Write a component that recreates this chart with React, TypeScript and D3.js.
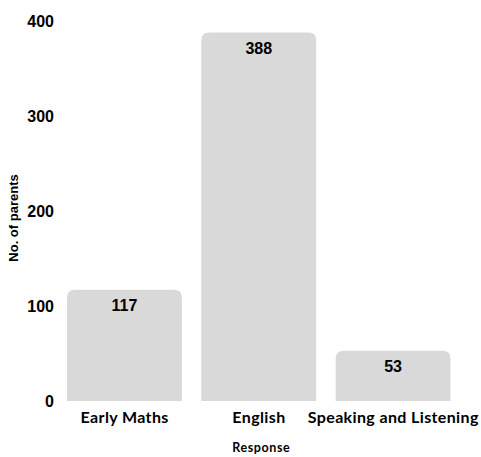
import React from "react";
import * as d3 from "d3";

const categories = ["Early Maths", "English", "Speaking and Listening"];
const values = [117, 388, 53];
const yTicks = [0, 100, 200, 300, 400];

const W = 481;
const H = 457;

function topRoundedRect(x: number, y: number, w: number, h: number, r: number) {
  const rr = Math.min(r, h, w / 2);
  return `M${x},${y + h}V${y + rr}Q${x},${y} ${x + rr},${y}H${x + w - rr}Q${x + w},${y} ${x + w},${y + rr}V${y + h}Z`;
}

export default function App() {
  const x = d3.scaleBand<string>().domain(categories).range([67, 450.5]).paddingInner(0.145).paddingOuter(0);
  const y = d3.scaleLinear().domain([0, 400]).range([401, 21]);
  const numFont = "'Liberation Sans', Arial, sans-serif";
  const labFont = "Lato, 'Open Sans', sans-serif";
  return (
    <svg width={W} height={H} style={{ position: "absolute", left: 0, top: 0, background: "#fff" }}>
      {categories.map((c, i) => {
        const bx = x(c)!;
        const by = y(values[i]);
        return (
          <g key={c}>
            <path d={topRoundedRect(bx, by, x.bandwidth(), y(0) - by, 8)} fill="#d9d9d9" />
            <text x={bx + x.bandwidth() / 2} y={by + 21.5} textAnchor="middle" fontFamily={numFont} fontWeight="bold" fontSize={16} fill="#000">
              {values[i]}
            </text>
            <text x={bx + x.bandwidth() / 2 + 0.2} y={423} textAnchor="middle" fontFamily={labFont} fontWeight="bold" fontSize={16} letterSpacing={0.37} fill="#000">
              {c}
            </text>
          </g>
        );
      })}
      {yTicks.map((t) => (
        <text key={t} x={54} y={y(t) + 5.5} textAnchor="end" fontFamily={numFont} fontWeight="bold" fontSize={16} fill="#000">
          {t}
        </text>
      ))}
      <text x={261.3} y={452} textAnchor="middle" fontFamily={labFont} fontWeight="bold" fontSize={12.5} letterSpacing={0.6} fill="#000">
        Response
      </text>
      <text transform="translate(18,218) rotate(-90)" textAnchor="middle" fontFamily={numFont} fontWeight="bold" fontSize={13} fill="#000">
        No. of parents
      </text>
    </svg>
  );
}
